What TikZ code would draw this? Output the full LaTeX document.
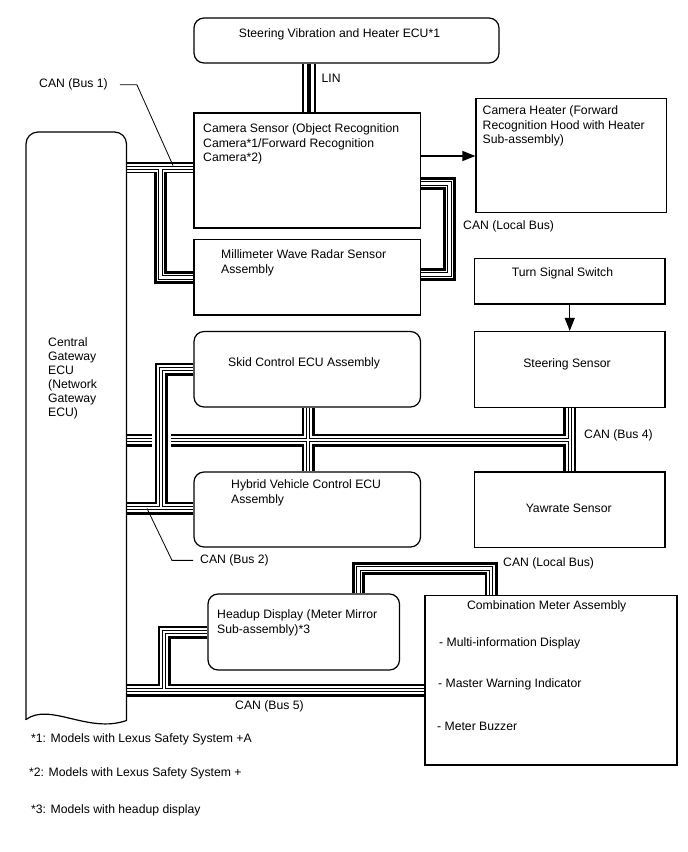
\documentclass[tikz,border=0pt]{standalone}
\usepackage{fontspec}
\setmainfont{Liberation Sans}
\usetikzlibrary{arrows.meta}
\pgfdeclarelayer{bg}
\pgfsetlayers{bg,main}
\newcommand\canbus[1]{%
  \draw[line width=13pt] #1;
  \draw[white,line width=7.6pt] #1;
  \draw[line width=4.3pt] #1;
  \draw[white,line width=2.1pt] #1;}
\begin{document}
\begin{tikzpicture}[x=1pt,y=-1pt,
  every node/.style={inner sep=0pt,font=\fontsize{12.2}{14.5}\selectfont},
  box/.style={draw,line width=1.2pt},
  rbox/.style={box,rounded corners=10pt},
  txt/.style={anchor=north west,align=left},
  ctxt/.style={anchor=north,align=center},
  leader/.style={line width=0.8pt},
  arrline/.style={line width=1.2pt,-{Triangle[length=13pt,width=10pt]}}]
\useasboundingbox (0,0) rectangle (688,852);
\begin{pgfonlayer}{bg}
  \fill[white] (0,0) rectangle (688,852);
\end{pgfonlayer}

% boxes
\node[rbox,minimum width=305pt,minimum height=45pt] (svh) at (346.5,40.5) {};
\node[box,minimum width=226.5pt,minimum height=115pt] (cam) at (307.25,170.5) {};
\node[box,minimum width=226.5pt,minimum height=75.5pt] (radar) at (307.25,277.25) {};
\node[box,minimum width=190.5pt,minimum height=114.2pt] (heat) at (571.25,155.6) {};
\node[box,minimum width=190.5pt,minimum height=45.3pt] (turn) at (569.75,281.35) {};
\node[box,minimum width=190.5pt,minimum height=76pt] (steer) at (569.75,369.5) {};
\node[box,minimum width=190.5pt,minimum height=75.5pt] (yaw) at (569.75,509.75) {};
\node[rbox,minimum width=226.5pt,minimum height=75.5pt] (skid) at (307.25,369.25) {};
\node[rbox,minimum width=226.5pt,minimum height=75pt] (hyb) at (307.25,509.5) {};
\node[rbox,minimum width=191.5pt,minimum height=76pt] (hud) at (303.75,632) {};
\node[box,minimum width=252pt,minimum height=169.5pt] (meter) at (551,680.25) {};
\node[minimum width=100.5pt,minimum height=588pt] (gw) at (76.25,426) {};

% gateway outline
\draw[box,line cap=round,rounded corners=12pt] (26,719.5) -- (26,132) -- (126.5,132) -- (126.5,720.5);
\draw[box,line cap=round] (26,719.5) .. controls (50,702) and (88,734) .. (126.5,720.5);

% buses
\begin{pgfonlayer}{bg}
  % main bus 2 / bus 4
  \canbus{(gw.east |- 0,440) -- (steer.south |- 0,440)
          (steer.south) -- (yaw.north)
          (skid.south -| 308,0) -- (hyb.north -| 308,0)}
  % bus 2 left branch
  \draw[white,line width=19pt] (161,369) -- (161,508);
  \canbus{(skid.west |- 0,369) -- (161,369) -- (161,508)
          (gw.east |- 0,508) -- (hyb.west |- 0,508)}
  % bus 1
  \canbus{(gw.east |- 0,168) -- (cam.west |- 0,168)
          (160.5,168) -- (160.5,277.5) -- (radar.west |- 0,277.5)}
  \draw[white,line width=3pt] (127.2,174) -- (153.8,174) (167.2,174) -- (193.3,174);
  % local bus (camera - radar)
  \canbus{(cam.east |- 0,183.5) -- (449.5,183.5) -- (449.5,274.5) -- (radar.east |- 0,274.5)}
  % local bus (hud - meter)
  \canbus{(hud.north -| 358.5,0) -- (358.5,568.5) -- (491,568.5) -- (meter.north -| 491,0)}
  % bus 5
  \canbus{(gw.east |- 0,690) -- (meter.west |- 0,690)
          (164,690) -- (164,632) -- (hud.west |- 0,632)}
  % LIN
  \draw[line width=1.1pt] (svh.south -| 303,0) -- (cam.north -| 303,0);
  \draw[line width=3.6pt] (svh.south -| 308.7,0) -- (cam.north -| 308.7,0);
  \draw[line width=1.1pt] (svh.south -| 315,0) -- (cam.north -| 315,0);
\end{pgfonlayer}

% arrows
\draw[arrline] (cam.east |- 0,156) -- (heat.west |- 0,156);
\draw[arrline] (turn.south) -- (steer.north);

% texts
\node[ctxt] (tsvh) at (339.5,28.5) {Steering Vibration and Heater ECU*1};
\node[txt] (tlin) at (321.5,73.8) {LIN};
\node[txt] (canb1) at (39,78.8) {CAN (Bus 1)};
\node[txt] (tcam) at (203,123.8) {Camera Sensor (Object Recognition\\Camera*1/Forward Recognition\\Camera*2)};
\node[txt] (theat) at (482.5,105.5) {Camera Heater (Forward\\Recognition Hood with Heater\\Sub-assembly)};
\node[txt] (canlb1) at (463,220.8) {CAN (Local Bus)};
\node[txt] (trad) at (221,249.5) {Millimeter Wave Radar Sensor\\Assembly};
\node[ctxt] (tturn) at (562.5,267.2) {Turn Signal Switch};
\node[txt,font=\fontsize{12.2}{14}\selectfont] (tgw) at (48,337.8) {Central\\Gateway\\ECU\\(Network\\Gateway\\ECU)};
\node[txt] (tskid) at (228,357.2) {Skid Control ECU Assembly};
\node[ctxt] (tsteer) at (567,358.8) {Steering Sensor};
\node[txt] (canb4) at (584,429.8) {CAN (Bus 4)};
\node[txt] (thyb) at (231,479.8) {Hybrid Vehicle Control ECU\\Assembly};
\node[ctxt] (tyaw) at (568.7,503.8) {Yawrate Sensor};
\node[txt] (canb2) at (200,554.5) {CAN (Bus 2)};
\node[txt] (canlb2) at (503,557.2) {CAN (Local Bus)};
\node[txt] (thud) at (217,609.5) {Headup Display (Meter Mirror\\Sub-assembly)*3};
\node[ctxt] (tmeter) at (546.7,600.5) {Combination Meter Assembly};
\node[txt] (tm1) at (439,637.2) {- Multi-information Display};
\node[txt] (tm2) at (438,678.8) {- Master Warning Indicator};
\node[txt] (tm3) at (437,722.2) {- Meter Buzzer};
\node[txt] (canb5) at (235,700.5) {CAN (Bus 5)};
\node[txt] (fn1) at (31,733.8) {*1: Models with Lexus Safety System +A};
\node[txt] (fn2) at (29,767.2) {*2: Models with Lexus Safety System +};
\node[txt] (fn3) at (31,804.5) {*3: Models with headup display};

% leader lines
\coordinate (b1tip) at (173,165.5);
\coordinate (b2tip) at (147,508.5);
\draw[leader] ([xshift=12pt]canb1.east) -- ++(17,0) -- (b1tip);
\draw[leader] ([xshift=-7pt]canb2.west) -- ++(-21,0) -- (b2tip);
\end{tikzpicture}
\end{document}
